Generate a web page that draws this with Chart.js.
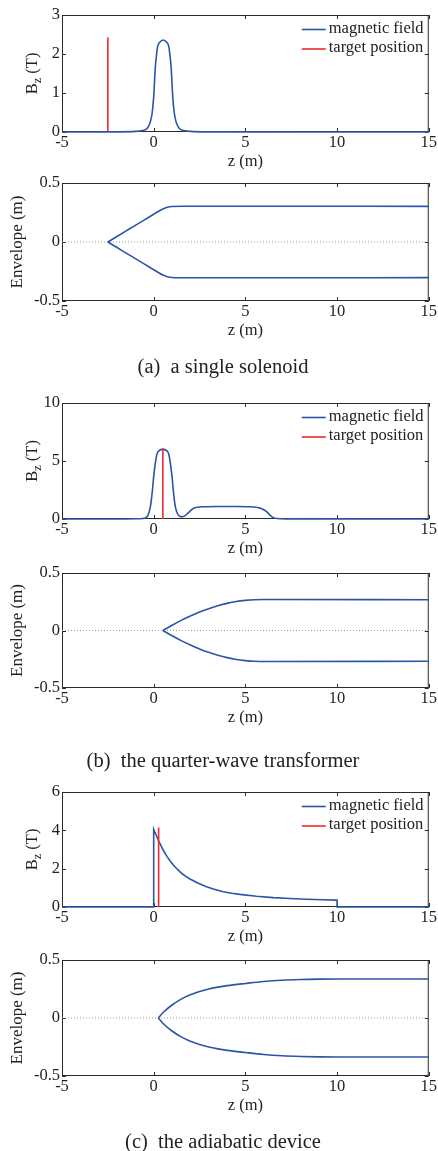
<!DOCTYPE html>
<html>
<head>
<meta charset="utf-8">
<script src="https://cdn.jsdelivr.net/npm/chart.js@4.4.1/dist/chart.umd.min.js"></script>
<style>
  body { margin: 0; background: #fff; }
  #page { position: relative; width: 438px; height: 1151px; overflow: hidden; }
  .plot { position: absolute; left: 0; width: 438px; }
  .caption {
    position: absolute; left: 0; width: 446px; text-align: center;
    font-family: "Liberation Serif", "Times New Roman", serif;
    font-size: 20.5px; line-height: 24px; color: #222;
  }
</style>
</head>
<body>
<div id="page">
  <div class="plot" style="top:3px;height:174px"><canvas id="fieldA"></canvas></div>
  <div class="plot" style="top:171px;height:175px"><canvas id="envA"></canvas></div>
  <div class="caption" style="top:354px">(a)&ensp;a single solenoid</div>

  <div class="plot" style="top:391px;height:173px"><canvas id="fieldB"></canvas></div>
  <div class="plot" style="top:561px;height:172px"><canvas id="envB"></canvas></div>
  <div class="caption" style="top:748px">(b)&ensp;the quarter-wave transformer</div>

  <div class="plot" style="top:780px;height:172px"><canvas id="fieldC"></canvas></div>
  <div class="plot" style="top:948px;height:173px"><canvas id="envC"></canvas></div>
  <div class="caption" style="top:1129px">(c)&ensp;the adiabatic device</div>
</div>

<script>
// values
var zTicks = [-5, 0, 5, 10, 15];
var envTicks = [-0.5, 0, 0.5];
var seriesNames = ['magnetic field', 'target position'];
var zeroLine_z = [-5, 15];
var zeroLine_r = [0, 0];

// (a) a single solenoid
var fieldA_ticks = [0, 1, 2, 3];
var fieldA_z = [-5, -2, -1, -0.6, -0.36, -0.18, -0.08, 0, 0.09, 0.16, 0.22, 0.33, 0.52, 0.71, 0.82, 0.88, 0.95, 1.04, 1.12, 1.22, 1.4, 1.64, 2.0, 3.0, 15];
var fieldA_B = [0, 0.004, 0.015, 0.04, 0.09, 0.26, 0.5, 0.9, 1.67, 2.0, 2.2, 2.3, 2.36, 2.3, 2.2, 2.0, 1.67, 0.9, 0.5, 0.26, 0.09, 0.04, 0.015, 0.004, 0];
var targetA_z = [-2.5, -2.5];
var targetA_B = [0, 2.42];
var envA_z = [-2.5, -2, -1.5, -1, -0.5, 0, 0.25, 0.5, 0.75, 1, 1.5, 3, 15];
var envA_up = [0, 0.047, 0.094, 0.141, 0.188, 0.235, 0.258, 0.28, 0.295, 0.301, 0.303, 0.303, 0.302];
var envA_lo = [0, -0.047, -0.094, -0.141, -0.188, -0.235, -0.258, -0.28, -0.295, -0.301, -0.303, -0.303, -0.302];

// (b) the quarter-wave transformer
var fieldB_ticks = [0, 5, 10];
var fieldB_z = [-5, -2, -1, -0.6, -0.45, -0.3, -0.18, -0.08, 0, 0.08, 0.18, 0.3, 0.5, 0.7, 0.82, 0.92, 1.0, 1.08, 1.18, 1.3,
  1.42, 1.55, 1.7, 1.82, 2.0, 2.18, 2.4, 2.63, 3.5, 4.5, 5.2, 5.5, 5.75, 5.95, 6.17, 6.35, 6.5, 6.72, 7.2, 15];
var fieldB_B = [0, 0.005, 0.02, 0.05, 0.1, 0.35, 1.06, 2.3, 3.65, 4.7, 5.6, 5.9, 6.0, 5.9, 5.6, 4.7, 3.65, 2.3, 1.06, 0.45,
  0.24, 0.2, 0.27, 0.43, 0.7, 0.92, 1.02, 1.06, 1.08, 1.08, 1.06, 1.03, 0.96, 0.84, 0.62, 0.32, 0.14, 0.04, 0.01, 0];
var targetB_z = [0.5, 0.5];
var targetB_B = [0, 6.1];
var envB_z = [0.5, 1, 1.5, 2, 2.5, 3, 3.5, 4, 4.5, 5, 5.5, 6, 15];
var envB_up = [0, 0.045, 0.088, 0.126, 0.16, 0.19, 0.215, 0.236, 0.252, 0.262, 0.268, 0.27, 0.267];
var envB_lo = [0, -0.045, -0.088, -0.126, -0.16, -0.19, -0.215, -0.236, -0.252, -0.262, -0.268, -0.27, -0.267];

// (c) the adiabatic device
var fieldC_ticks = [0, 2, 4, 6];
var fieldC_z = [-5, 0, 0, 0.09, 0.18, 0.27, 0.36, 0.5, 0.73, 0.9, 1.07, 1.3, 1.52, 1.75, 1.98, 2.4, 2.88, 3.3, 3.79, 4.25,
  4.7, 5.61, 6.52, 7.42, 8.33, 9.24, 10, 10, 15];
var fieldC_B = [0, 0, 4.05, 3.85, 3.65, 3.45, 3.28, 3.0, 2.63, 2.4, 2.19, 1.96, 1.76, 1.6, 1.46, 1.25, 1.06, 0.93, 0.80, 0.72,
  0.66, 0.56, 0.49, 0.44, 0.405, 0.38, 0.36, 0, 0];
var targetC_z = [0.27, 0.27];
var targetC_B = [0, 4.15];
var envC_z = [0.25, 0.5, 1.0, 1.5, 2.0, 2.5, 3.0, 3.5, 4.0, 5.0, 6.0, 7.0, 8.0, 9.0, 10, 15];
var envC_up = [0, 0.045, 0.112, 0.163, 0.2, 0.228, 0.25, 0.266, 0.279, 0.298, 0.315, 0.326, 0.332, 0.335, 0.336, 0.336];
var envC_lo = [0, -0.045, -0.112, -0.163, -0.2, -0.228, -0.25, -0.266, -0.279, -0.298, -0.315, -0.326, -0.332, -0.335, -0.336, -0.336];

var FONT = 'Liberation Serif';
var BLUE = '#2b55a8';
var RED = '#ee2a2f';
var INK = '#222';

function pts(xs, ys) {
  return xs.map(function (x, i) { return { x: x, y: ys[i] }; });
}

// box round the plot area, with short ticks pointing inwards on all four sides
var frame = {
  id: 'frame',
  beforeDatasetsDraw: function (chart) {
    var c = chart.ctx, a = chart.chartArea;
    c.save();
    c.strokeStyle = '#2a2a2a';
    c.lineWidth = 1;
    c.strokeRect(a.left + 0.5, a.top + 0.5, a.right - a.left - 1, a.bottom - a.top - 1);
    c.beginPath();
    chart.scales.x.ticks.forEach(function (t) {
      var x = Math.round(chart.scales.x.getPixelForValue(t.value)) + 0.5;
      c.moveTo(x, a.bottom); c.lineTo(x, a.bottom - 4);
      c.moveTo(x, a.top); c.lineTo(x, a.top + 4);
    });
    chart.scales.y.ticks.forEach(function (t) {
      var y = Math.round(chart.scales.y.getPixelForValue(t.value)) + 0.5;
      c.moveTo(a.left, y); c.lineTo(a.left + 4, y);
      c.moveTo(a.right, y); c.lineTo(a.right - 4, y);
    });
    c.stroke();
    c.restore();
  }
};

// legend in the upper right corner, one row per series
var key = {
  id: 'key',
  afterDatasetsDraw: function (chart) {
    var c = chart.ctx, a = chart.chartArea;
    c.save();
    c.font = '16.5px "' + FONT + '"';
    c.textBaseline = 'middle';
    chart.data.datasets.forEach(function (ds, i) {
      var y = a.top + 14.5 + i * 19.5;
      c.strokeStyle = ds.borderColor;
      c.lineWidth = 1.6;
      c.beginPath(); c.moveTo(a.right - 127, y); c.lineTo(a.right - 103, y); c.stroke();
      c.fillStyle = INK;
      c.fillText(ds.label, a.right - 100, y - 1);
    });
    c.restore();
  }
};

// rotated y title, drawn in pieces so B can carry a subscript z
function yTitle(parts, x) {
  return {
    id: 'ytitle',
    afterDraw: function (chart) {
      var c = chart.ctx, a = chart.chartArea, total = 0;
      c.save();
      c.fillStyle = INK;
      c.textBaseline = 'alphabetic';
      parts.forEach(function (p) { c.font = p[1] + 'px "' + FONT + '"'; total += c.measureText(p[0]).width; });
      c.translate(x, (a.top + a.bottom) / 2);
      c.rotate(-Math.PI / 2);
      var pos = -total / 2;
      parts.forEach(function (p) {
        c.font = p[1] + 'px "' + FONT + '"';
        c.fillText(p[0], pos, p[2]);
        pos += c.measureText(p[0]).width;
      });
      c.restore();
    }
  };
}

function options(yMin, yMax, yTicks) {
  var tickFont = { family: FONT, size: 16.5 };
  return {
    responsive: true,
    maintainAspectRatio: false,
    animation: false,
    events: [],
    layout: { padding: { top: 12, right: 9, bottom: 0, left: 0 } },
    plugins: { legend: { display: false }, tooltip: { enabled: false } },
    scales: {
      x: {
        type: 'linear', min: -5, max: 15,
        afterBuildTicks: function (s) { s.ticks = zTicks.map(function (v) { return { value: v }; }); },
        afterFit: function (s) { s.height = 45; },
        grid: { display: false, drawTicks: false },
        border: { display: false },
        ticks: { padding: 1, color: INK, font: tickFont, maxRotation: 0, autoSkip: false,
                 callback: function (v) { return String(v); } },
        title: { display: true, text: 'z (m)', color: INK, font: tickFont, padding: { top: 0, bottom: 5.5 } }
      },
      y: {
        min: yMin, max: yMax,
        afterBuildTicks: function (s) { s.ticks = yTicks.map(function (v) { return { value: v }; }); },
        afterFit: function (s) { s.width = 62; },
        grid: { display: false, drawTicks: false },
        border: { display: false },
        ticks: { padding: 2, color: INK, font: tickFont, autoSkip: false,
                 callback: function (v) { return String(v); } }
      }
    }
  };
}

function fieldChart(id, zs, bs, tz, tb, yTicks, smooth) {
  var ctx = document.getElementById(id).getContext('2d');
  return new Chart(ctx, {
    type: 'line',
    data: {
      datasets: [{
        label: seriesNames[0],
        data: pts(zs, bs),
        borderColor: BLUE, borderWidth: 1.6, pointRadius: 0, clip: 4, order: 2,
        cubicInterpolationMode: smooth ? 'monotone' : 'default'
      }, {
        label: seriesNames[1],
        data: pts(tz, tb),
        borderColor: RED, borderWidth: 1.6, pointRadius: 0, clip: 4, order: 1
      }]
    },
    options: options(yTicks[0], yTicks[yTicks.length - 1], yTicks),
    plugins: [frame, key, yTitle([['B', 16.5, 0], ['z', 12.5, 4], [' (T)', 16.5, 0]], 36.5)]
  });
}

function envChart(id, zs, up, lo) {
  var ctx = document.getElementById(id).getContext('2d');
  return new Chart(ctx, {
    type: 'line',
    data: {
      datasets: [{
        data: pts(zs, up),
        borderColor: BLUE, borderWidth: 1.6, pointRadius: 0, cubicInterpolationMode: 'monotone', clip: 4
      }, {
        data: pts(zs, lo),
        borderColor: BLUE, borderWidth: 1.6, pointRadius: 0, cubicInterpolationMode: 'monotone', clip: 4
      }, {
        data: pts(zeroLine_z, zeroLine_r),
        borderColor: '#9a9a9a', borderWidth: 1, borderDash: [1, 2], pointRadius: 0
      }]
    },
    options: options(-0.5, 0.5, envTicks),
    plugins: [frame, yTitle([['Envelope (m)', 17, 0]], 21.5)]
  });
}

fieldChart('fieldA', fieldA_z, fieldA_B, targetA_z, targetA_B, fieldA_ticks, true);
envChart('envA', envA_z, envA_up, envA_lo);
fieldChart('fieldB', fieldB_z, fieldB_B, targetB_z, targetB_B, fieldB_ticks, true);
envChart('envB', envB_z, envB_up, envB_lo);
fieldChart('fieldC', fieldC_z, fieldC_B, targetC_z, targetC_B, fieldC_ticks, false);
envChart('envC', envC_z, envC_up, envC_lo);
</script>
</body>
</html>
